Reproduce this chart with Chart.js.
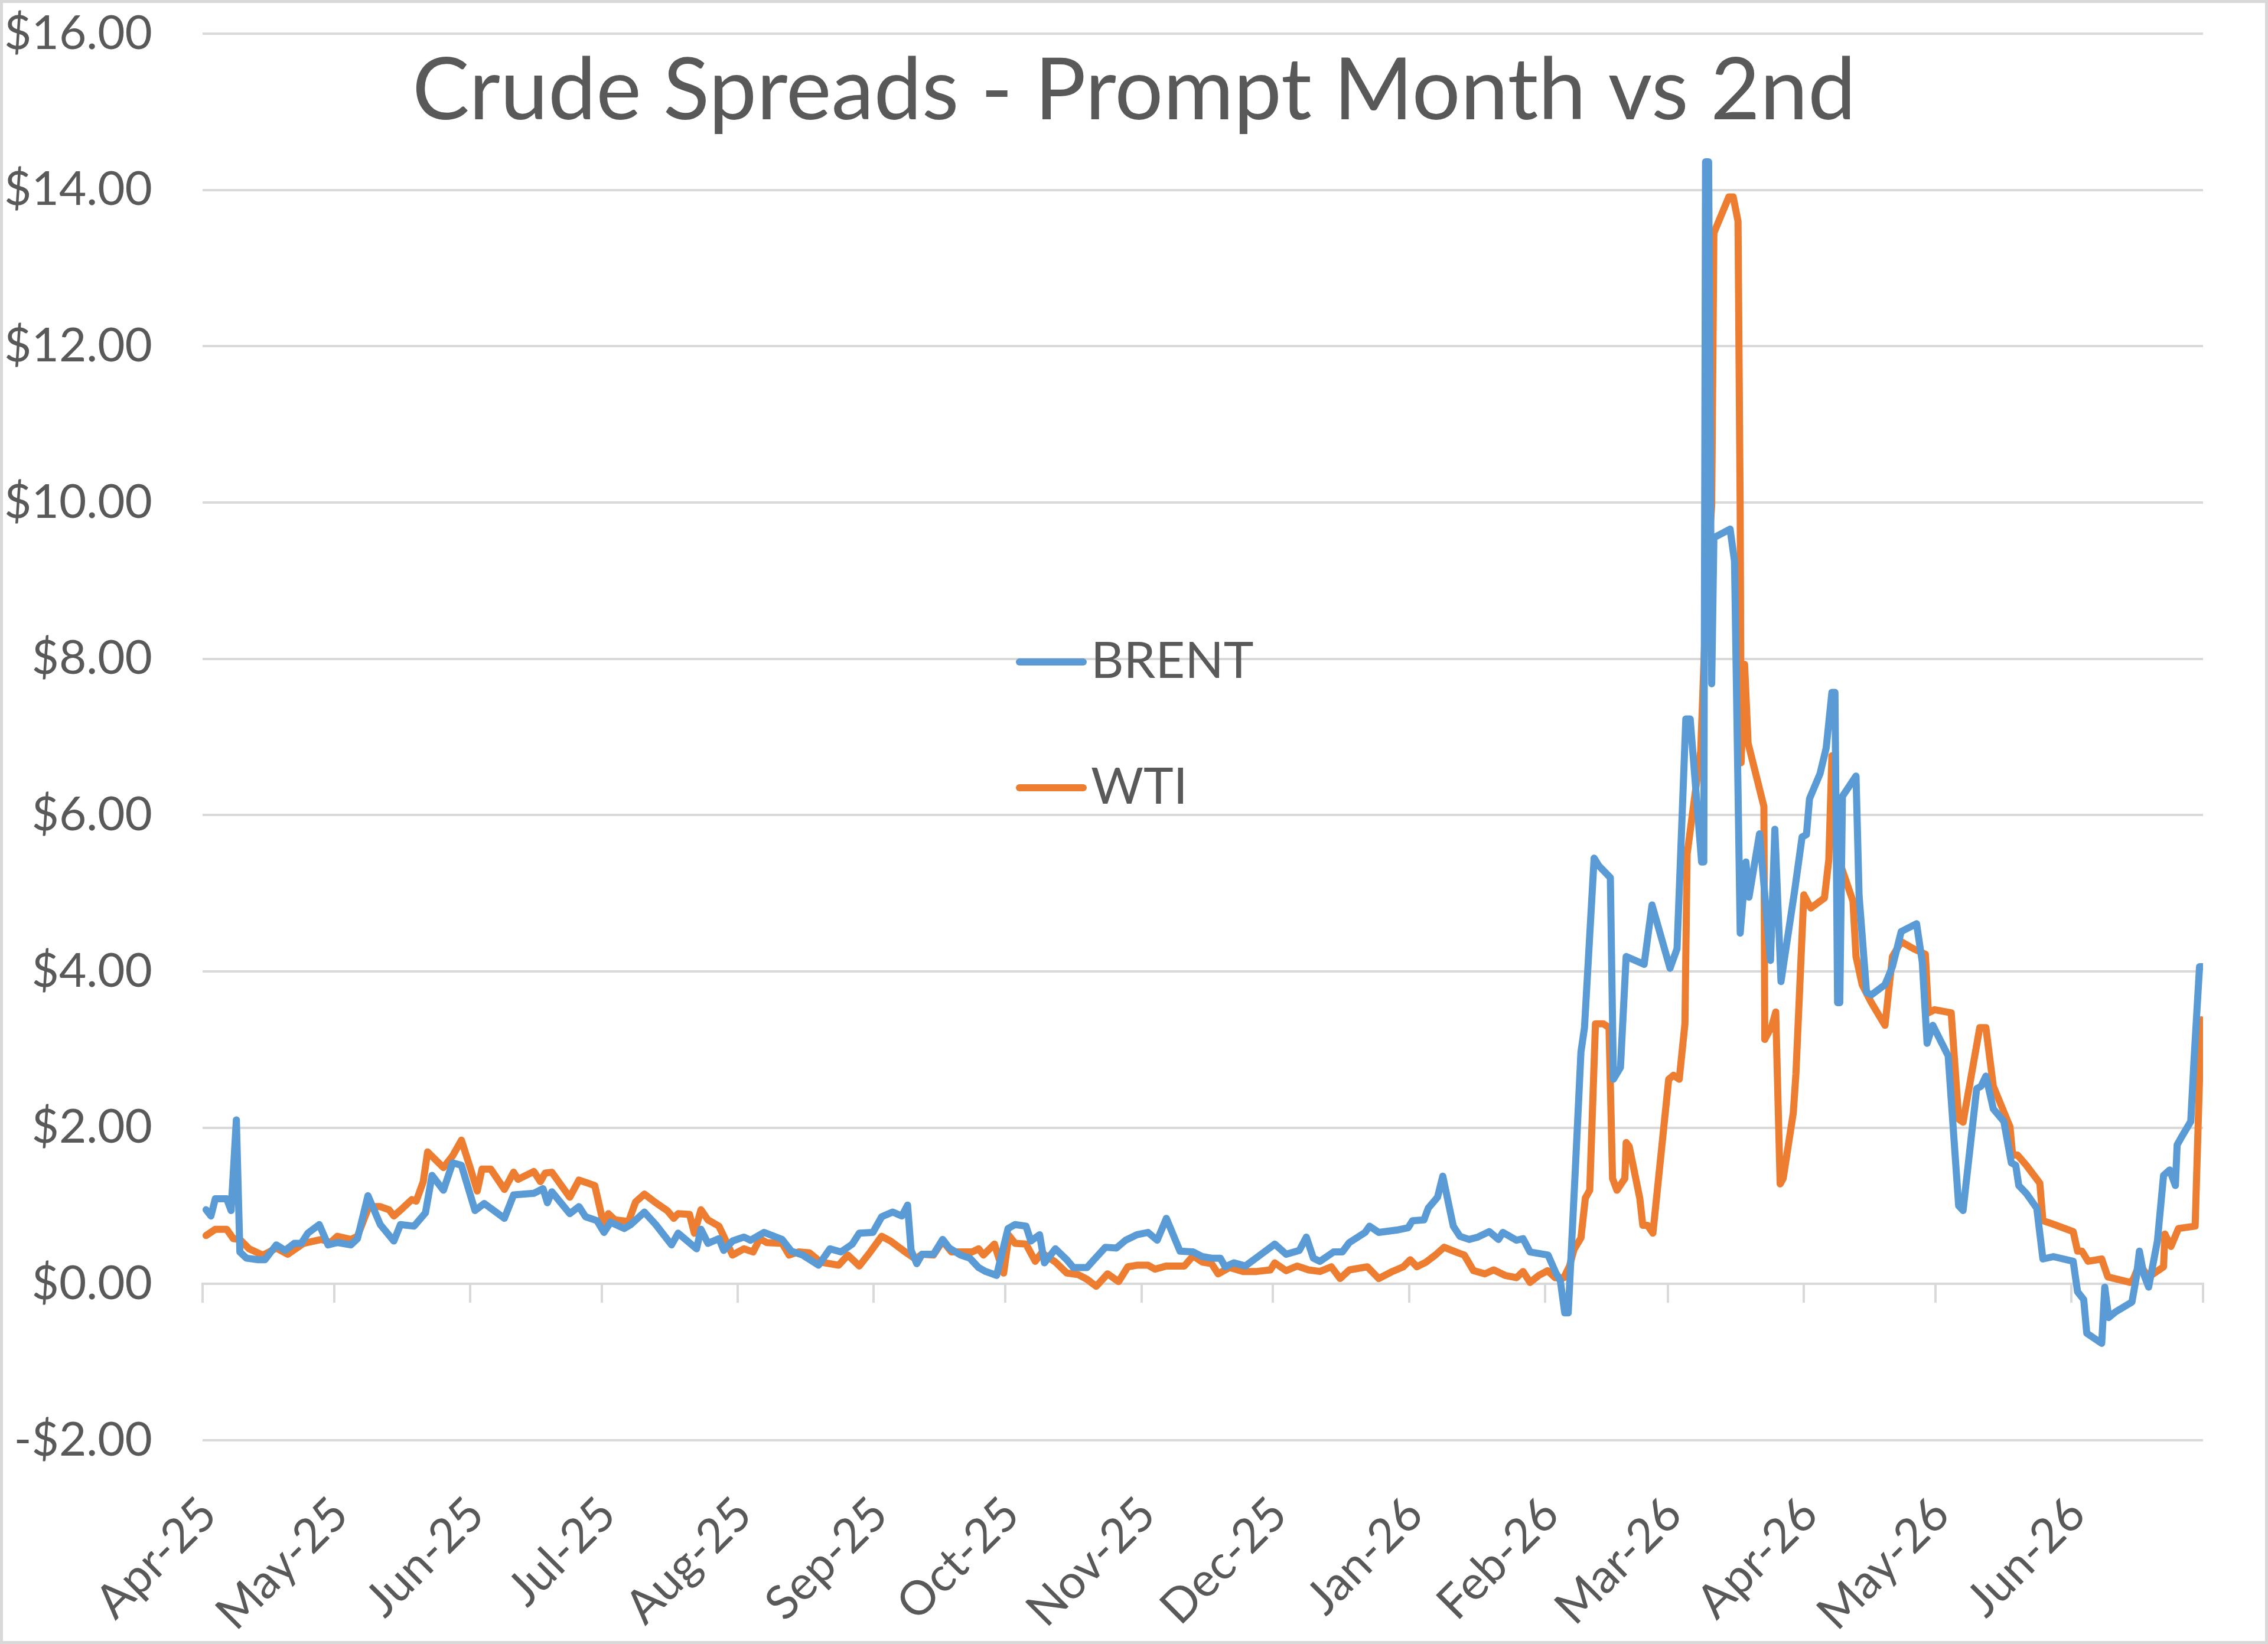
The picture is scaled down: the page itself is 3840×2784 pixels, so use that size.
<!DOCTYPE html>
<html>
<head>
<meta charset="utf-8">
<title>Crude Spreads - Prompt Month vs 2nd</title>
<script src="https://cdn.jsdelivr.net/npm/chart.js@4.4.1/dist/chart.umd.min.js"></script>
<style>
    html, body { margin: 0; padding: 0; background: #fff; }
    #frame { width: 3840px; height: 2784px; box-sizing: border-box; border: 5px solid #d9d9d9; background: #fff; }
    canvas { display: block; }
</style>
</head>
<body>
<div id="frame"><canvas id="spreadChart" width="3830" height="2774" style="width:3830px;height:2774px"></canvas></div>
<script>
const TITLE = "Crude Spreads - Prompt Month vs 2nd";
const seriesNames = ["BRENT", "WTI"];
const monthLabels = ["Apr-25", "May-25", "Jun-25", "Jul-25", "Aug-25", "Sep-25", "Oct-25", "Nov-25",
    "Dec-25", "Jan-26", "Feb-26", "Mar-26", "Apr-26", "May-26", "Jun-26"];

// x = days since 1 Apr 2025
const brentDay = [
    0.8, 1.9, 2.9, 5.5, 6.5, 7.7, 8.5, 10, 12.7, 14.2,
    16.8, 18.8, 20.9, 22.5, 24, 26.6, 28.6, 30.7, 33.8, 35.3,
    37.7, 40.5, 43.6, 45.1, 48.2, 50.8, 52.3, 54.9, 57, 59,
    62.1, 64.2, 68.8, 70.9, 75.5, 77.6, 78.6, 79.6, 83.7, 85.8,
    87.3, 89.9, 91.5, 93, 96.1, 97.6, 100.7, 103.3, 106.9, 108.4,
    112.6, 113.6, 115.2, 117.7, 118.8, 120.8, 123.4, 124.9, 128, 132.1,
    134.2, 136.8, 140.4, 143, 145.5, 148.1, 149.7, 152.8, 154.8, 157.3,
    159.4, 160.7, 161.5, 162.8, 164, 166.6, 168.7, 170.2, 172.8, 174.9,
    176.9, 178.5, 181, 183.6, 185.2, 187.7, 188.8, 190.8, 191.9, 194.4,
    197, 198.5, 201.6, 203.2, 205.8, 208.3, 210.4, 213, 215.5, 217.6,
    219.7, 222.8, 225.8, 227.9, 230, 232, 233.1, 235.1, 237.7, 241.3,
    244.4, 247, 250, 251.6, 253.2, 254.7, 257.8, 259.8, 261.4, 265,
    266, 268.1, 272.2, 274.8, 275.8, 278.4, 279.4, 281.5, 282.7, 285.1,
    286.6, 288.7, 290.7, 293.3, 295.4, 296.4, 299.5, 301, 302.6, 306.7,
    308.5, 309.5, 310.5, 311.3, 312.9, 314.2, 315, 317.2, 318.3, 320.9,
    321.6, 323.2, 324.5, 328.6, 330.4, 334.5, 336.1, 338.1, 339.1, 341.7,
    342.2, 342.6, 343.3, 344, 344.5, 348.2, 349.2, 350.5, 351.8, 352.5,
    354.9, 357.4, 358.4, 359.8, 362.9, 364.6, 365.6, 366.3, 368.7, 370.1,
    371.4, 372.1, 372.7, 373.2, 373.8, 376.9, 377.6, 379.3, 380.4, 383.5,
    385.2, 387.2, 390.7, 392, 393.1, 394.4, 397.9, 400.3, 401.3, 404.4,
    405.4, 406.5, 408.2, 410.6, 412.3, 413.3, 414, 415.7, 418.1, 419.5,
    421.9, 426.4, 427.4, 428.8, 429.5, 432.9, 433.6, 434.5, 436, 439.8,
    440.8, 441.5, 442.5, 443.6, 445.6, 447, 448.4, 449.7, 450.1, 451.1,
    453.2, 453.9, 455.2, 455.9
];
const brentVal = [
    0.95, 0.87, 1.09, 1.09, 0.94, 2.10, 0.41, 0.33, 0.31, 0.31,
    0.50, 0.43, 0.52, 0.52, 0.65, 0.76, 0.50, 0.53, 0.50, 0.58,
    1.13, 0.76, 0.55, 0.76, 0.74, 0.91, 1.39, 1.20, 1.55, 1.52,
    0.94, 1.03, 0.84, 1.14, 1.16, 1.22, 1.04, 1.18, 0.90, 0.99,
    0.86, 0.81, 0.66, 0.79, 0.71, 0.76, 0.92, 0.76, 0.50, 0.65,
    0.45, 0.70, 0.52, 0.58, 0.43, 0.55, 0.60, 0.56, 0.66, 0.57,
    0.42, 0.37, 0.24, 0.45, 0.41, 0.51, 0.65, 0.66, 0.86, 0.92,
    0.87, 1.01, 0.43, 0.26, 0.38, 0.38, 0.57, 0.46, 0.37, 0.33,
    0.21, 0.16, 0.11, 0.71, 0.76, 0.74, 0.55, 0.63, 0.27, 0.45,
    0.31, 0.21, 0.21, 0.31, 0.47, 0.46, 0.56, 0.63, 0.66, 0.56,
    0.84, 0.42, 0.41, 0.35, 0.33, 0.33, 0.22, 0.27, 0.23, 0.38,
    0.51, 0.38, 0.43, 0.60, 0.33, 0.29, 0.41, 0.41, 0.53, 0.66,
    0.74, 0.66, 0.69, 0.72, 0.81, 0.82, 0.97, 1.11, 1.38, 0.74,
    0.61, 0.57, 0.60, 0.67, 0.57, 0.66, 0.56, 0.58, 0.41, 0.37,
    0.14, 0.04, -0.37, -0.37, 1.45, 2.97, 3.28, 5.45, 5.35, 5.20,
    2.62, 2.77, 4.19, 4.09, 4.85, 4.04, 4.29, 7.23, 7.23, 5.40,
    5.40, 14.36, 14.36, 7.68, 9.55, 9.66, 9.25, 4.49, 5.40, 4.95,
    5.76, 4.14, 5.82, 3.87, 5.03, 5.72, 5.75, 6.21, 6.53, 6.86,
    7.57, 7.57, 3.60, 3.60, 6.24, 6.50, 4.97, 3.73, 3.70, 3.83,
    4.06, 4.51, 4.61, 4.12, 3.08, 3.31, 2.92, 1.00, 0.94, 2.50,
    2.53, 2.66, 2.24, 2.08, 1.55, 1.52, 1.26, 1.16, 0.97, 0.32,
    0.35, 0.29, -0.10, -0.20, -0.63, -0.76, -0.04, -0.43, -0.36, -0.23,
    0.09, 0.42, 0.12, -0.04, 0.55, 1.39, 1.46, 1.26, 1.78, 1.88,
    2.08, 2.82, 4.06, 4.06
];

const wtiDay = [
    0.8, 2.9, 5.5, 7, 8.5, 10.6, 13.7, 15.2, 16.8, 19.4,
    23, 27.1, 29.2, 30.7, 33.8, 35.3, 37.9, 40.5, 42.5, 43.6,
    45.6, 47.7, 48.7, 50.3, 51.3, 54.9, 57, 59, 61.1, 62.6,
    63.7, 65.7, 68.8, 70.9, 71.9, 75.5, 77, 78.1, 79.6, 83.7,
    85.8, 89.4, 91.5, 92.5, 94, 97.1, 98.7, 100.7, 103.3, 105.9,
    107.4, 108.4, 111, 112.1, 113.6, 115.2, 117.7, 120.8, 123.4, 125.5,
    127, 128.6, 132.1, 133.7, 135.8, 138.3, 140.9, 145, 147.1, 149.7,
    152.2, 154.8, 156.8, 160.4, 162.5, 164, 166.6, 168.7, 170.7, 175.4,
    176.9, 178, 180.5, 182.6, 183.8, 185.2, 187.7, 189.8, 191.3, 194.4,
    197, 199.6, 201.6, 203.7, 206.3, 208.8, 210.9, 213, 215.5, 217.1,
    219.7, 223.8, 225.8, 227.9, 230, 231.5, 234.1, 237.2, 240.3, 243.4,
    244.4, 247, 249.5, 252.1, 254.7, 257.3, 259.3, 261.4, 265.5, 268.1,
    271.2, 273.7, 275.3, 276.8, 278.9, 281, 283, 286.1, 287.6, 289.7,
    292.3, 294.3, 296.9, 299.5, 301, 302.6, 304.6, 306.6, 308.3, 310.3,
    311.6, 312.6, 314.2, 315.2, 316.2, 317.5, 319.3, 320.6, 321.4, 322.4,
    324.2, 324.5, 325.2, 327.6, 328.3, 329.4, 330.6, 334.2, 335.3, 336.6,
    337.9, 338.4, 341.5, 343, 344, 344.5, 347.9, 348.9, 350, 350.5,
    350.7, 351.5, 352.3, 355.9, 356.1, 357.7, 358.6, 359.6, 360.3, 362.6,
    363.2, 365, 366.6, 369.7, 370.7, 371.4, 372.5, 373.2, 376.2, 376.9,
    378.3, 380.4, 383.5, 385.2, 387.2, 390, 392.7, 393.4, 394.8, 398.6,
    400.3, 401.3, 405.1, 406.5, 408.2, 412, 412.6, 413.7, 415.7, 418.8,
    419.5, 421.6, 426.4, 427.4, 428.4, 429.8, 432.9, 434.3, 439.4, 440.1,
    441.5, 443.6, 447, 447.3, 448.7, 450.4, 454.2, 455.6
];
const wtiVal = [
    0.62, 0.70, 0.70, 0.58, 0.57, 0.45, 0.37, 0.41, 0.46, 0.38,
    0.52, 0.57, 0.53, 0.61, 0.57, 0.61, 0.99, 0.99, 0.95, 0.87,
    0.97, 1.08, 1.06, 1.31, 1.69, 1.49, 1.64, 1.84, 1.47, 1.19,
    1.47, 1.47, 1.21, 1.43, 1.34, 1.44, 1.31, 1.42, 1.43, 1.11,
    1.33, 1.26, 0.74, 0.90, 0.82, 0.80, 1.05, 1.15, 1.04, 0.94,
    0.84, 0.90, 0.89, 0.65, 0.95, 0.82, 0.74, 0.37, 0.45, 0.41,
    0.58, 0.53, 0.52, 0.37, 0.41, 0.40, 0.28, 0.24, 0.37, 0.23,
    0.41, 0.61, 0.55, 0.40, 0.32, 0.38, 0.37, 0.55, 0.41, 0.41,
    0.45, 0.37, 0.51, 0.14, 0.62, 0.52, 0.51, 0.29, 0.40, 0.28,
    0.14, 0.12, 0.06, -0.03, 0.13, 0.03, 0.22, 0.24, 0.24, 0.19,
    0.23, 0.23, 0.36, 0.28, 0.26, 0.13, 0.21, 0.16, 0.16, 0.18,
    0.27, 0.17, 0.23, 0.18, 0.16, 0.22, 0.07, 0.18, 0.22, 0.07,
    0.16, 0.22, 0.31, 0.22, 0.28, 0.37, 0.47, 0.40, 0.37, 0.17,
    0.13, 0.18, 0.11, 0.08, 0.16, 0.02, 0.11, 0.17, 0.08, 0.08,
    0.23, 0.44, 0.59, 1.10, 1.20, 3.33, 3.33, 3.28, 1.35, 1.20,
    1.35, 1.81, 1.76, 1.10, 0.75, 0.75, 0.65, 2.62, 2.67, 2.62,
    3.33, 5.50, 6.82, 9.15, 9.96, 13.45, 13.91, 13.91, 13.60, 9.86,
    6.67, 7.93, 6.92, 6.11, 3.13, 3.30, 3.48, 1.28, 1.35, 2.19,
    2.69, 4.98, 4.81, 4.94, 5.43, 6.76, 5.82, 5.39, 4.90, 4.19,
    3.83, 3.60, 3.31, 4.19, 4.38, 4.29, 4.22, 3.47, 3.51, 3.47,
    2.11, 2.07, 3.28, 3.28, 2.53, 2.01, 1.65, 1.65, 1.52, 1.29,
    0.81, 0.77, 0.67, 0.42, 0.42, 0.29, 0.32, 0.09, 0.02, 0.06,
    0.25, 0.09, 0.22, 0.64, 0.48, 0.71, 0.74, 3.38
];

const BLUE = "#5b9bd5";
const ORANGE = "#ed7d31";
const TEXT = "#595959";
const GRID = "#d9d9d9";

// month boundaries as day offsets, plus the end of the axis
const START = Date.UTC(2025, 3, 1);
const monthStarts = monthLabels.map((_, i) => (Date.UTC(2025, 3 + i, 1) - START) / 86400000);
const AXIS_END = (Date.UTC(2025, 3 + monthLabels.length, 1) - START) / 86400000;
const tickDays = monthStarts.concat([AXIS_END]);

function toPoints(days, vals) {
    return days.map((d, i) => ({ x: d, y: vals[i] }));
}

function money(v) {
    return (v < 0 ? "-$" : "$") + Math.abs(v).toFixed(2);
}

function setMonthTicks(scale) {
    scale.ticks = tickDays.map(v => ({ value: v }));
}

// keep the label overhang of the x scales from shrinking the plot area
function noSidePadding(scale) {
    scale.paddingLeft = 0;
    scale.paddingRight = 0;
}

const overlay = {
    id: "overlay",
    afterDraw(chart) {
        const ctx = chart.ctx;
        ctx.save();
        ctx.fillStyle = TEXT;
        ctx.textBaseline = "middle";

        ctx.font = "145px Lato";
        ctx.textAlign = "center";
        ctx.fillText(TITLE, chart.width / 2, 150);

        ctx.font = "86px Lato";
        ctx.textAlign = "left";
        chart.data.datasets.forEach((ds, i) => {
            const y = 1111 + i * 213;
            ctx.strokeStyle = ds.borderColor;
            ctx.lineWidth = 12;
            ctx.lineCap = "round";
            ctx.beginPath();
            ctx.moveTo(1721, y + 5);
            ctx.lineTo(1829, y + 5);
            ctx.stroke();
            ctx.fillText(ds.label, 1842, y + 4);
        });
        ctx.restore();
    }
};

function draw() {
    Chart.defaults.font.family = "Lato";
    Chart.defaults.color = TEXT;

    const ctx = document.getElementById("spreadChart").getContext("2d");

    new Chart(ctx, {
        type: "line",
        data: {
            datasets: [
                {
                    label: seriesNames[0],
                    data: toPoints(brentDay, brentVal),
                    borderColor: BLUE,
                    borderWidth: 12,
                    pointRadius: 0,
                    tension: 0,
                    borderJoinStyle: "round",
                    borderCapStyle: "round"
                },
                {
                    label: seriesNames[1],
                    data: toPoints(wtiDay, wtiVal),
                    borderColor: ORANGE,
                    borderWidth: 12,
                    pointRadius: 0,
                    tension: 0,
                    borderJoinStyle: "round",
                    borderCapStyle: "round"
                }
            ]
        },
        options: {
            responsive: false,
            animation: false,
            devicePixelRatio: 1,
            layout: { padding: { top: 52, right: 105, left: 0, bottom: 0 } },
            plugins: {
                legend: { display: false },
                title: { display: false },
                tooltip: { enabled: false }
            },
            scales: {
                // axis line and tick marks sit on the $0 line
                x: {
                    type: "linear",
                    position: { y: 0 },
                    min: 0,
                    max: AXIS_END,
                    afterBuildTicks: setMonthTicks,
                    afterFit: noSidePadding,
                    ticks: { display: false },
                    grid: {
                        drawOnChartArea: false,
                        drawTicks: true,
                        tickLength: 30,
                        color: GRID,
                        lineWidth: 4
                    },
                    border: { display: true, color: GRID, width: 4 }
                },
                // month labels at the bottom of the chart
                x2: {
                    type: "linear",
                    position: "bottom",
                    min: 0,
                    max: AXIS_END,
                    afterBuildTicks: setMonthTicks,
                    afterFit(scale) {
                        scale.height = 340;
                        noSidePadding(scale);
                    },
                    grid: { display: false },
                    border: { display: false },
                    ticks: {
                        autoSkip: false,
                        maxRotation: 45,
                        minRotation: 45,
                        padding: 70,
                        labelOffset: 10,
                        color: TEXT,
                        font: { size: 80 },
                        callback: (v) => {
                            const i = monthStarts.indexOf(v);
                            return i >= 0 ? monthLabels[i] : "";
                        }
                    }
                },
                y: {
                    min: -2,
                    max: 16,
                    afterFit(scale) {
                        scale.width = 338;
                        scale.paddingTop = 40;
                        scale.paddingBottom = 40;
                    },
                    ticks: {
                        stepSize: 2,
                        padding: 85,
                        color: TEXT,
                        font: { size: 80 },
                        callback: (v) => money(v)
                    },
                    grid: { color: GRID, lineWidth: 4, drawTicks: false },
                    border: { display: false }
                }
            }
        },
        plugins: [overlay]
    });
}

if (document.fonts && document.fonts.load) {
    document.fonts.load("80px Lato").then(draw, draw);
} else {
    draw();
}
</script>
</body>
</html>
